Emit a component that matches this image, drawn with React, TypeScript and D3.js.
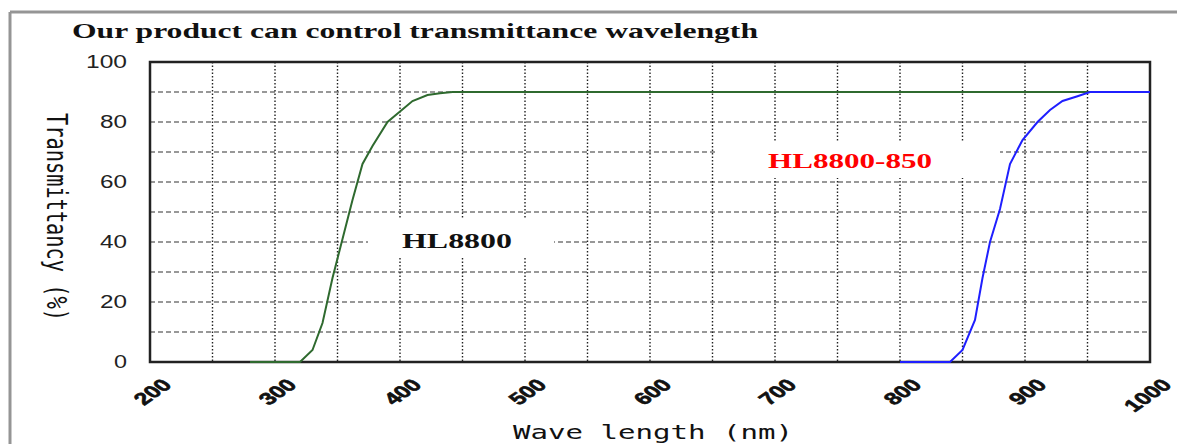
import React from "react";
import * as d3 from "d3";

const xTicks = [200, 300, 400, 500, 600, 700, 800, 900, 1000];
const yTicks = [0, 20, 40, 60, 80, 100];
const hGrid = [10, 20, 30, 40, 50, 60, 70, 80, 90];
const vGrid = [250, 300, 350, 400, 450, 500, 550, 600, 650, 700, 750, 800, 850, 900, 950];

const hl8800Wave = [280, 320, 330, 338, 346, 354, 362, 370, 378, 390, 400, 410, 422, 432, 442, 1000];
const hl8800Value = [0, 0, 4, 13, 28, 41, 54, 66, 72, 80, 83.5, 87, 89, 89.6, 90, 90];

const hl850Wave = [800, 840, 850, 860, 866, 872, 880, 888, 898, 910, 920, 930, 942, 952, 1000];
const hl850Value = [0, 0, 4, 14, 28, 40, 51, 66, 74, 80, 84, 87, 88.6, 90, 90];

const title = "Our product can control transmittance wavelength";
const xTitle = "Wave length (nm)";
const yTitle = "Transmittancy (%)";

export default function App() {
  const L = 150, R = 1150, T = 62, B = 362;
  const x = d3.scaleLinear().domain([200, 1000]).range([L, R]);
  const y = d3.scaleLinear().domain([0, 100]).range([B, T]);
  const line = d3
    .line<[number, number]>()
    .x((d) => x(d[0]))
    .y((d) => y(d[1]));
  const green = line(hl8800Wave.map((w, i) => [w, hl8800Value[i]]) as [number, number][]) || "";
  const blue = line(hl850Wave.map((w, i) => [w, hl850Value[i]]) as [number, number][]) || "";

  return (
    <svg
      width={1177}
      height={444}
      style={{ position: "absolute", left: 0, top: 0, background: "#fff" }}
    >
      <rect x={0} y={0} width={1177} height={444} fill="#fff" />
      {/* outer frame */}
      <line x1={10} y1={12} x2={1177} y2={12} stroke="#959595" strokeWidth={3} />
      <line x1={10} y1={12} x2={10} y2={444} stroke="#959595" strokeWidth={3} />

      {/* title */}
      <text
        x={72}
        y={38}
        fontFamily="'Liberation Serif', 'Times New Roman', serif"
        fontWeight="bold"
        fontSize={22}
        textLength={686}
        lengthAdjust="spacingAndGlyphs"
        fill="#111"
      >
        {title}
      </text>

      {/* grid */}
      {hGrid.map((v) => (
        <line key={"h" + v} x1={L} x2={R} y1={y(v)} y2={y(v)} stroke="#333" strokeWidth={1.1} strokeDasharray="5,3" />
      ))}
      {vGrid.map((v) => (
        <line key={"v" + v} x1={x(v)} x2={x(v)} y1={T} y2={B} stroke="#222" strokeWidth={1.4} strokeDasharray="1.5,2" />
      ))}

      {/* label masks */}
      <rect x={368} y={219} width={186} height={38} fill="#fff" />
      <rect x={715} y={141} width={285} height={37} fill="#fff" />

      {/* plot border */}
      <rect x={L} y={T} width={R - L} height={B - T} fill="none" stroke="#222" strokeWidth={2.5} />

      {/* curves */}
      <path d={green} fill="none" stroke="#2f6a2f" strokeWidth={2} />
      <path d={blue} fill="none" stroke="#1f1fff" strokeWidth={2} />

      {/* labels */}
      <text
        x={402}
        y={248}
        fontFamily="'Liberation Serif', 'Times New Roman', serif"
        fontWeight="bold"
        fontSize={22}
        textLength={110}
        lengthAdjust="spacingAndGlyphs"
        fill="#111"
      >
        HL8800
      </text>
      <text
        x={768}
        y={168}
        fontFamily="'Liberation Serif', 'Times New Roman', serif"
        fontWeight="bold"
        fontSize={22}
        textLength={164}
        lengthAdjust="spacingAndGlyphs"
        fill="#ff0000"
      >
        HL8800-850
      </text>

      {/* y tick labels */}
      {yTicks.map((v) => {
        const s = String(v);
        return (
          <text
            key={"yt" + v}
            x={127}
            y={y(v)}
            dy="0.36em"
            textAnchor="end"
            fontFamily="'Liberation Sans', Arial, sans-serif"
            fontSize={18}
            textLength={s.length * 14 - 1}
            lengthAdjust="spacingAndGlyphs"
            fill="#222"
          >
            {s}
          </text>
        );
      })}

      {/* x tick labels */}
      {xTicks.map((v) => (
        <text
          key={"xt" + v}
          transform={`translate(${x(v) + 23},386) scale(1.45,1) rotate(-45)`}
          textAnchor="end"
          fontFamily="'Liberation Sans', Arial, sans-serif"
          fontWeight="bold"
          fontSize={17}
          stroke="#111"
          strokeWidth={0.6}
          fill="#111"
        >
          {v}
        </text>
      ))}

      {/* axis titles */}
      <text
        x={513}
        y={439}
        fontFamily="'DejaVu Sans Mono', monospace"
        fontSize={20}
        textLength={280}
        lengthAdjust="spacingAndGlyphs"
        fill="#111"
      >
        {xTitle}
      </text>
      <text
        transform="translate(47,113) scale(1.4,1) rotate(90)"
        fontFamily="'DejaVu Sans Mono', monospace"
        fontSize={20}
        textLength={208}
        lengthAdjust="spacingAndGlyphs"
        fill="#111"
      >
        {yTitle}
      </text>
    </svg>
  );
}
